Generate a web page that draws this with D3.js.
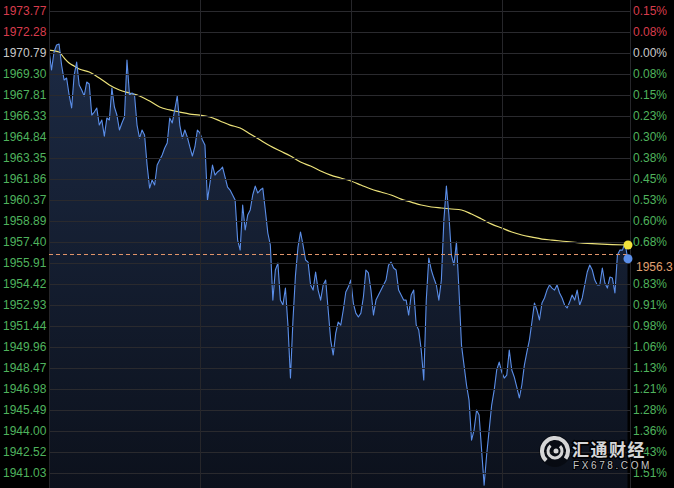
<!DOCTYPE html>
<html><head><meta charset="utf-8">
<script src="https://cdn.jsdelivr.net/npm/d3@7"></script>
<style>html,body{margin:0;padding:0;background:#000;overflow:hidden}</style>
</head><body><svg id="c" width="674" height="488"></svg>
<script>
// ---- data (one value per minute) ----
const prices = [
1970.97,1969.56,1970.83,1971.33,1971.40,1969.91,1968.85,1968.99,1967.79,1966.87,
1969.20,1970.12,1968.50,1968.14,1967.72,1968.71,1968.57,1966.37,1966.58,1966.87,
1965.66,1966.02,1964.88,1966.16,1966.02,1968.28,1966.94,1966.37,1965.31,1965.81,
1966.23,1970.27,1967.79,1967.93,1967.79,1965.66,1964.74,1965.31,1964.96,1962.83,
1961.20,1961.77,1961.42,1962.83,1963.19,1963.54,1964.04,1964.39,1966.16,1965.81,
1966.73,1967.72,1965.66,1964.74,1965.31,1964.81,1964.11,1963.47,1964.11,1965.31,
1965.10,1964.60,1964.25,1960.35,1961.56,1962.83,1962.12,1962.34,1962.48,1962.69,
1961.98,1961.27,1961.06,1960.71,1960.35,1957.52,1956.81,1960.00,1958.23,1959.29,
1959.65,1960.71,1961.34,1960.85,1961.06,1961.20,1959.65,1958.02,1957.17,1953.27,
1955.40,1955.89,1953.27,1952.92,1954.12,1951.50,1947.75,1951.86,1955.04,1957.03,
1958.09,1957.17,1956.11,1955.96,1954.34,1953.98,1955.26,1953.98,1953.27,1954.34,
1954.69,1952.57,1950.44,1949.38,1950.94,1951.72,1951.50,1952.57,1953.84,1954.19,
1954.69,1953.06,1952.35,1952.07,1952.35,1953.49,1955.40,1955.19,1953.98,1952.21,
1953.27,1953.63,1953.98,1954.34,1954.69,1955.75,1955.96,1955.54,1955.40,1953.98,
1953.63,1953.27,1953.27,1952.21,1953.63,1953.98,1951.50,1951.15,1949.73,1947.61,
1953.27,1956.25,1955.40,1954.83,1954.34,1953.27,1954.69,1958.94,1961.34,1959.29,
1956.46,1955.75,1957.38,1953.98,1950.09,1948.67,1947.26,1946.19,1943.36,1944.07,
1945.49,1945.13,1942.65,1940.17,1942.30,1944.07,1945.84,1946.90,1948.32,1948.88,
1948.18,1947.75,1947.96,1949.73,1948.32,1947.82,1947.11,1946.34,1947.26,1948.67,
1949.59,1950.44,1951.72,1953.06,1952.57,1951.86,1953.06,1953.42,1953.98,1954.34,
1954.12,1953.98,1954.34,1953.77,1953.42,1952.92,1952.71,1953.13,1953.63,1953.27,
1953.98,1952.92,1953.42,1954.34,1955.26,1955.75,1955.40,1954.69,1954.34,1954.34,
1955.54,1954.48,1954.12,1954.90,1954.83,1953.77,1956.46,1956.81,1956.81,1957.31,
1956.30];
const avgMinutes = [0,4,6,8,10,12,16,20,24,28,32,36,40,44,48,52,56,60,64,68,72,76,80,84,88,92,96,100,104,108,112,116,120,124,128,132,136,140,144,148,152,156,160,164,168,172,176,180,184,188,192,196,200,208,216,224,230];
const avgPrices = [1970.97,1970.83,1970.41,1970.05,1969.84,1969.63,1969.42,1968.99,1968.50,1968.14,1967.93,1967.72,1967.36,1966.94,1966.73,1966.58,1966.44,1966.37,1966.23,1965.95,1965.66,1965.45,1965.03,1964.60,1964.18,1963.82,1963.47,1963.04,1962.76,1962.41,1962.12,1961.91,1961.70,1961.42,1961.13,1960.92,1960.71,1960.42,1960.21,1960.00,1959.86,1959.79,1959.72,1959.65,1959.36,1959.01,1958.65,1958.37,1958.09,1957.88,1957.73,1957.59,1957.52,1957.38,1957.27,1957.20,1957.17];
const leftTicks = ["1973.77","1972.28","1970.79","1969.30","1967.81","1966.33","1964.84","1963.35","1961.86","1960.37","1958.89","1957.40","1955.91","1954.42","1952.93","1951.44","1949.96","1948.47","1946.98","1945.49","1944.00","1942.52","1941.03"];
const pctTicks = ["0.15%","0.08%","0.00%","0.08%","0.15%","0.23%","0.30%","0.38%","0.45%","0.53%","0.60%","0.68%","0.76%","0.83%","0.91%","0.98%","1.06%","1.13%","1.21%","1.28%","1.36%","1.43%","1.51%"];
const refPrice = 1970.79;
const lastPrice = 1956.3;
const sessionMinutes = 231;
const hourMarks = [0, 60, 120, 180, 231];

// ---- layout ----
const W = 674, H = 488, L = 49, R = 630;
const svg = d3.select('#c');
const x = d3.scaleLinear().domain([0, sessionMinutes]).range([L, R]);
const y = d3.scaleLinear().domain([1973.77, 1941.03]).range([10.5, 473]);
const red = '#d83c4c', green = '#4fb35d', gray = '#c8c8c8';
const colorFor = v => Math.abs(v - refPrice) < 0.005 ? gray : (v > refPrice ? red : green);

const defs = svg.append('defs');
const grad = defs.append('linearGradient').attr('id', 'ag').attr('gradientUnits', 'userSpaceOnUse')
  .attr('x1', 0).attr('y1', 40).attr('x2', 0).attr('y2', H);
grad.append('stop').attr('offset', 0).attr('stop-color', '#1c2a44');
grad.append('stop').attr('offset', 1).attr('stop-color', '#0c111c');
defs.append('clipPath').attr('id', 'pc').append('rect').attr('x', L).attr('y', 0).attr('width', R - L).attr('height', H);

svg.append('rect').attr('width', W).attr('height', H).attr('fill', '#000');

const plot = svg.append('g').attr('clip-path', 'url(#pc)');
const series = prices.map((p, i) => [i, p]);
plot.append('path').datum(series)
  .attr('d', d3.area().x(d => x(d[0])).y0(H).y1(d => y(d[1])))
  .attr('fill', 'url(#ag)');

// grid
const grid = svg.append('g');
grid.selectAll('line.h').data(leftTicks).join('line')
  .attr('x1', L).attr('x2', R)
  .attr('y1', d => Math.round(y(+d)) + 0.5).attr('y2', d => Math.round(y(+d)) + 0.5)
  .attr('stroke', '#2a2a2e').attr('stroke-width', 1);
grid.selectAll('line.v').data(hourMarks).join('line')
  .attr('x1', d => Math.round(x(d)) + 0.5).attr('x2', d => Math.round(x(d)) + 0.5)
  .attr('y1', 0).attr('y2', H)
  .attr('stroke', '#26262a').attr('stroke-width', 1);

// avg line
const avgSeries = avgMinutes.map((m, i) => [m, avgPrices[i]]);
plot.append('path').datum(avgSeries)
  .attr('d', d3.line().x(d => x(d[0])).y(d => y(d[1])).curve(d3.curveMonotoneX))
  .attr('fill', 'none').attr('stroke', '#ece27a').attr('stroke-width', 1.2);

// price line
plot.append('path').datum(series)
  .attr('d', d3.line().x(d => x(d[0])).y(d => y(d[1])))
  .attr('fill', 'none').attr('stroke', '#5b8ee8').attr('stroke-width', 1.1).attr('stroke-linejoin', 'round');

// last price dashed line
const dashY = Math.round(y(lastPrice)) - 2.5;
svg.append('line').attr('x1', L).attr('x2', R)
  .attr('y1', dashY).attr('y2', dashY)
  .attr('stroke', '#e0946a').attr('stroke-width', 1).attr('stroke-dasharray', '4,3');

// axis labels
const font = '"Liberation Sans", Arial, sans-serif';
const ly = y(lastPrice) + 10;
svg.append('g').selectAll('text').data(leftTicks).join('text')
  .attr('x', 3).attr('y', d => y(+d)).attr('dy', '0.35em')
  .attr('font-family', font).attr('font-size', 12)
  .attr('fill', d => colorFor(+d)).text(d => d);
// right-hand % labels; the one under the last-price tag is covered by it
const pctData = pctTicks.map((t, i) => ({t, v: +leftTicks[i]})).filter(d => Math.abs(y(d.v) - ly) > 8);
svg.append('g').selectAll('text').data(pctData).join('text')
  .attr('x', 633).attr('y', d => y(d.v)).attr('dy', '0.35em')
  .attr('font-family', font).attr('font-size', 12)
  .attr('fill', d => colorFor(d.v)).text(d => d.t);

// last price tag
svg.append('rect').attr('x', 632).attr('y', ly - 8).attr('width', 42).attr('height', 16).attr('fill', '#000');
svg.append('text').attr('x', 636).attr('y', ly).attr('dy', '0.35em')
  .attr('font-family', font).attr('font-size', 12).attr('fill', '#e0a070').text(String(lastPrice));

// end dots
const last = prices.length - 1;
svg.append('circle').attr('cx', x(avgMinutes[avgMinutes.length - 1]) + 0.5).attr('cy', y(avgPrices[avgPrices.length - 1]))
  .attr('r', 4.5).attr('fill', '#f2e33c');
svg.append('circle').attr('cx', x(last) + 0.5).attr('cy', y(prices[last]) + 1.5)
  .attr('r', 4.5).attr('fill', '#5b8ee8');

// watermark
const wm = svg.append('g').attr('opacity', 0.92);
const cx = 555, cy = 451;
wm.append('circle').attr('cx', cx).attr('cy', cy).attr('r', 16).attr('fill', '#000').attr('opacity', 0.4);
wm.append('path').attr('d', d3.arc()({innerRadius: 11, outerRadius: 15, startAngle: -2.4, endAngle: 2.2}))
  .attr('transform', `translate(${cx},${cy})`).attr('fill', '#e6e6e6');
wm.append('path').attr('d', d3.arc()({innerRadius: 5.5, outerRadius: 8.5, startAngle: 0.8, endAngle: 5.6}))
  .attr('transform', `translate(${cx},${cy})`).attr('fill', '#e6e6e6');
wm.append('circle').attr('cx', cx + 1).attr('cy', cy).attr('r', 2.5).attr('fill', '#e6e6e6');
wm.append('text').attr('x', 572).attr('y', 456)
  .attr('font-family', '"Noto Sans CJK SC", sans-serif').attr('font-size', 17).attr('font-weight', 'bold')
  .attr('fill', '#e8e8e8').attr('stroke', '#000').attr('stroke-width', 3).attr('paint-order', 'stroke')
  .attr('letter-spacing', 1.5).text('汇通财经');
wm.append('text').attr('x', 573).attr('y', 468.5)
  .attr('font-family', font).attr('font-size', 10)
  .attr('fill', '#d8d8d8').attr('stroke', '#000').attr('stroke-width', 2).attr('paint-order', 'stroke')
  .attr('letter-spacing', 2.6).text('FX678.COM');
</script></body></html>
